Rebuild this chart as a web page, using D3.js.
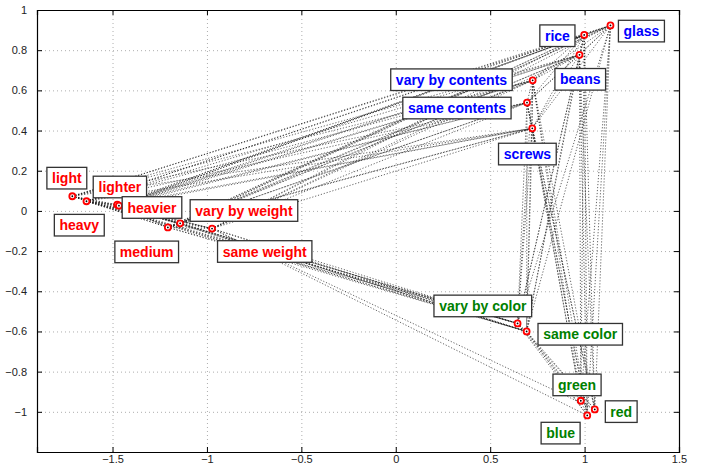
<!DOCTYPE html>
<html>
<head>
<meta charset="utf-8">
<script src="https://cdn.jsdelivr.net/npm/d3@7"></script>
<style>
  html, body { margin: 0; padding: 0; background: #fff; }
  svg { display: block; }
  .tick text { font-family: "Liberation Sans", Arial, Helvetica, sans-serif; font-size: 11px; fill: #222; }
  .lbl text { font-family: "Liberation Sans", Arial, Helvetica, sans-serif; font-weight: bold; font-size: 14px; }
</style>
</head>
<body>
<svg id="chart" width="702" height="468"></svg>
<script>
// Word embedding: three groups of terms (weight, contents, colour)
const weightTerms   = ["light", "heavy", "lighter", "heavier", "medium", "vary by weight", "same weight"];
const weightX       = [-1.713, -1.638, -1.475, -1.466, -1.207, -1.142, -0.973];
const weightY       = [0.073, 0.048, 0.031, 0.026, -0.082, -0.062, -0.088];

const contentTerms  = ["glass", "rice", "beans", "vary by contents", "same contents", "screws"];
const contentX      = [1.137, 0.998, 0.973, 0.725, 0.695, 0.723];
const contentY      = [0.923, 0.876, 0.777, 0.650, 0.539, 0.411];

const colorTerms    = ["vary by color", "same color", "green", "red", "blue"];
const colorX        = [0.645, 0.693, 0.980, 1.054, 1.014];
const colorY        = [-0.560, -0.600, -0.945, -0.988, -1.018];

// Axis ticks
const xTicks = [-1.5, -1, -0.5, 0, 0.5, 1, 1.5];
const yTicks = [-1, -0.8, -0.6, -0.4, -0.2, 0, 0.2, 0.4, 0.6, 0.8, 1];
const xDomain = [-1.9, 1.5];
const yDomain = [-1.2, 1];

// Pairs of groups whose members are all linked, plus a few single links
const groupLinks = [["weight", "contents"], ["weight", "colorRel"], ["contents", "color"],
                    ["weight", "weight"], ["contents", "contents"], ["color", "color"]];
const extraLinks = [["same weight", "red"], ["same weight", "blue"]];

// Where each label box sits (data units, box centre)
const labelAt = {
  "light": [-1.742, 0.163], "heavy": [-1.676, -0.071], "lighter": [-1.461, 0.119],
  "heavier": [-1.291, 0.017], "medium": [-1.319, -0.204], "vary by weight": [-0.804, 0.002],
  "same weight": [-0.694, -0.202],
  "rice": [0.856, 0.872], "glass": [1.301, 0.895], "vary by contents": [0.295, 0.653],
  "beans": [0.977, 0.655], "same contents": [0.324, 0.512], "screws": [0.697, 0.283],
  "vary by color": [0.461, -0.473], "same color": [0.977, -0.614], "green": [0.960, -0.866],
  "red": [1.194, -0.999], "blue": [0.873, -1.106]
};

const groupColor = { weight: "#ff0000", contents: "#0000ff", color: "#008000" };

// Build node table
const nodes = [];
weightTerms.forEach((t, i) => nodes.push({ name: t, x: weightX[i], y: weightY[i], group: "weight" }));
contentTerms.forEach((t, i) => nodes.push({ name: t, x: contentX[i], y: contentY[i], group: "contents" }));
colorTerms.forEach((t, i) => nodes.push({ name: t, x: colorX[i], y: colorY[i], group: "color" }));
const byName = new Map(nodes.map(n => [n.name, n]));

const members = {
  weight: nodes.filter(n => n.group === "weight"),
  contents: nodes.filter(n => n.group === "contents"),
  color: nodes.filter(n => n.group === "color"),
  colorRel: ["vary by color", "same color"].map(n => byName.get(n))
};

const links = [];
groupLinks.forEach(([a, b]) => {
  members[a].forEach((s, i) => {
    members[b].forEach((t, j) => {
      if (a === b && j <= i) return;
      links.push([s, t]);
    });
  });
});
extraLinks.forEach(([a, b]) => links.push([byName.get(a), byName.get(b)]));

// Layout
const W = 702, H = 468;
const margin = { left: 37, right: 23, top: 10, bottom: 16 };
const x = d3.scaleLinear().domain(xDomain).range([margin.left, W - margin.right]);
const y = d3.scaleLinear().domain(yDomain).range([H - margin.bottom, margin.top]);

const svg = d3.select("#chart");
svg.append("rect").attr("width", W).attr("height", H).attr("fill", "#fff");

const fmt = v => v === 0 ? "0" : d3.format("~g")(v).replace("-", "\u2212");

// grid
const grid = svg.append("g").attr("stroke", "#999").attr("stroke-width", 0.8)
  .attr("stroke-dasharray", "1,3");
grid.selectAll(".gx").data(xTicks).join("line")
  .attr("x1", d => x(d) + 0.5).attr("x2", d => x(d) + 0.5)
  .attr("y1", y(yDomain[0])).attr("y2", y(yDomain[1]));
grid.selectAll(".gy").data(yTicks).join("line")
  .attr("y1", d => y(d) + 0.5).attr("y2", d => y(d) + 0.5)
  .attr("x1", x(xDomain[0])).attr("x2", x(xDomain[1]));

// links
svg.append("g").attr("fill", "none")
  .selectAll("line").data(links).join("line")
  .attr("x1", d => x(d[0].x)).attr("y1", d => y(d[0].y))
  .attr("x2", d => x(d[1].x)).attr("y2", d => y(d[1].y))
  .attr("stroke", "#1a1a1a").attr("stroke-opacity", 0.75)
  .attr("stroke-width", 0.9).attr("stroke-dasharray", "1.2,1.8");

// axes (ticks inward on all four sides)
const tl = -5;
svg.append("g").attr("transform", `translate(0,${y(yDomain[0])})`)
  .call(d3.axisBottom(x).tickValues(xTicks).tickSize(tl).tickPadding(3).tickFormat(fmt));
svg.append("g").attr("transform", `translate(0,${y(yDomain[1])})`)
  .call(d3.axisTop(x).tickValues(xTicks).tickSize(tl).tickFormat(""));
svg.append("g").attr("transform", `translate(${x(xDomain[0])},0)`)
  .call(d3.axisLeft(y).tickValues(yTicks).tickSize(tl).tickPadding(10).tickFormat(fmt));
svg.append("g").attr("transform", `translate(${x(xDomain[1])},0)`)
  .call(d3.axisRight(y).tickValues(yTicks).tickSize(tl).tickFormat(""));
svg.selectAll(".domain").attr("stroke", "#000").attr("stroke-width", 1.2);
svg.selectAll(".tick line").attr("stroke", "#000");

// points: red rings with a small dark centre
const pts = svg.append("g").selectAll("g").data(nodes).join("g")
  .attr("transform", d => `translate(${x(d.x)},${y(d.y)})`);
pts.append("circle").attr("r", 3.0).attr("fill", "#fff").attr("stroke", "#ff0000").attr("stroke-width", 1.8);
pts.append("circle").attr("r", 0.9).attr("fill", "#000");

// labels in white boxes
const lbl = svg.append("g").attr("class", "lbl").selectAll("g").data(nodes).join("g")
  .attr("transform", d => `translate(${x(labelAt[d.name][0])},${y(labelAt[d.name][1])})`);
lbl.append("rect");
lbl.append("text").attr("text-anchor", "middle").attr("dy", "0.36em")
  .attr("fill", d => groupColor[d.group]).text(d => d.name);
lbl.each(function () {
  const g = d3.select(this);
  const bb = g.select("text").node().getBBox();
  g.select("rect").attr("x", -bb.width / 2 - 5).attr("y", -10.8)
    .attr("width", bb.width + 10).attr("height", 21.6)
    .attr("fill", "#fff").attr("stroke", "#333").attr("stroke-width", 1.3);
});
</script>
</body>
</html>
